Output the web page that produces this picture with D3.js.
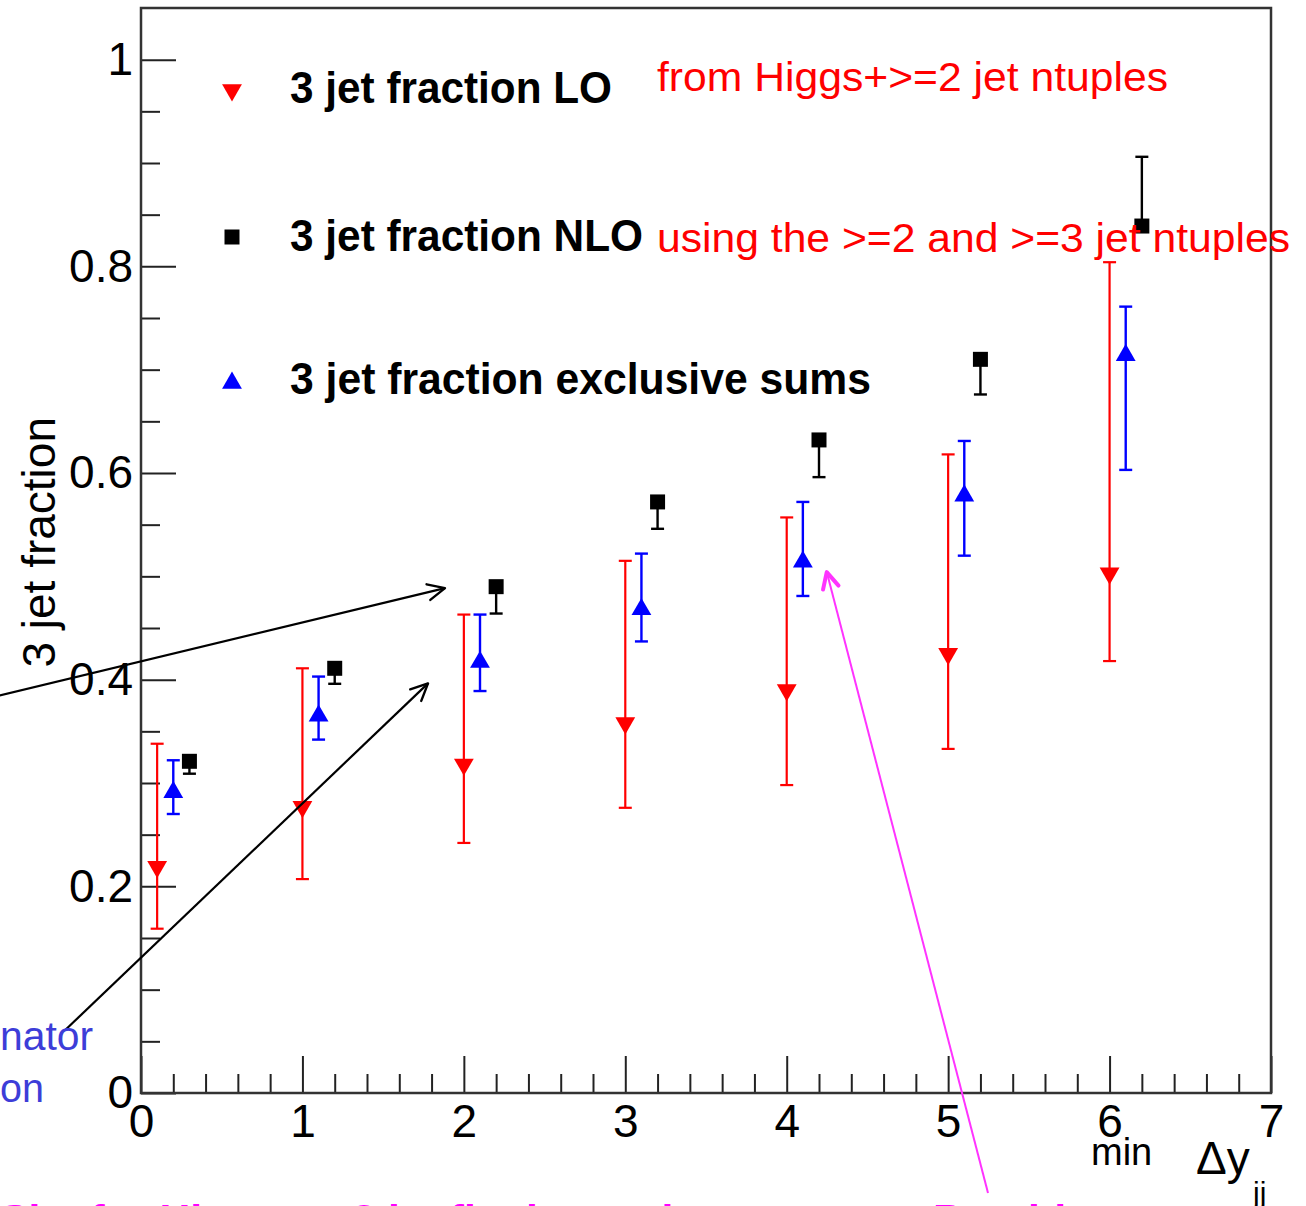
<!DOCTYPE html>
<html>
<head>
<meta charset="utf-8">
<script src="https://cdn.jsdelivr.net/npm/d3@7"></script>
<style>
  body { margin: 0; background: #fff; }
  svg { display: block; }
  text { font-family: "Liberation Sans", Arial, Helvetica, sans-serif; }
</style>
</head>
<body>
<svg id="chart"></svg>
<script>
/*
  3 jet fraction vs min delta y
*/

// LO (red, down triangles)
var xLO = [0.1, 1, 2, 3, 4, 5, 6],
    yLO = [0.219, 0.277, 0.318, 0.358, 0.390, 0.425, 0.503],
    hiLO = [0.338, 0.411, 0.463, 0.515, 0.557, 0.618, 0.804],
    loLO = [0.159, 0.207, 0.242, 0.276, 0.298, 0.333, 0.418];

// exclusive sums (blue, up triangles)
var xExcl = [0.2, 1.1, 2.1, 3.1, 4.1, 5.1, 6.1],
    yExcl = [0.291, 0.365, 0.417, 0.468, 0.514, 0.578, 0.714],
    hiExcl = [0.322, 0.403, 0.463, 0.522, 0.572, 0.631, 0.761],
    loExcl = [0.270, 0.342, 0.389, 0.437, 0.481, 0.520, 0.603];

// NLO (black squares)
var xNLO = [0.3, 1.2, 2.2, 3.2, 4.2, 5.2, 6.2],
    yNLO = [0.321, 0.411, 0.490, 0.572, 0.632, 0.710, 0.839],
    hiNLO = [0.326, 0.416, 0.495, 0.577, 0.637, 0.715, 0.906],
    loNLO = [0.309, 0.396, 0.464, 0.546, 0.596, 0.676, 0.834];

var xTicks = [0, 1, 2, 3, 4, 5, 6, 7],
    yTicks = [0, 0.2, 0.4, 0.6, 0.8, 1],
    legendLabels = ["3 jet fraction LO", "3 jet fraction NLO", "3 jet fraction exclusive sums"];

// annotation arrows, in axis units
var arrows = [
  {from: [-1.0, 0.380], to: [1.883, 0.4886], color: "#000", head: "headBlack", w: 2.2},
  {from: [-0.471, 0.0607], to: [1.778, 0.3964], color: "#000", head: "headBlack", w: 2.2},
  {from: [5.247, -0.0968], to: [4.248, 0.5041], color: "#ff33ff", head: "headPink", w: 2}
];

var margin = {top: 8, right: 35, bottom: 113, left: 141},
    width = 1130,
    height = 1085,
    x = d3.scaleLinear().domain([0, 7]).range([0, width]),
    y = d3.scaleLinear().domain([0, 1.05]).range([height, 0]);

var svgRoot = d3.select("#chart")
    .attr("width", 1306)
    .attr("height", 1206);

var svg = svgRoot.append("g")
    .attr("transform", "translate(" + margin.left + "," + margin.top + ")");

//Arrow heads
var defs = svgRoot.append("defs");
[["headBlack", "#000", 2.4, 17, 8], ["headPink", "#ff33ff", 4, 16, 8]].forEach(function(m){
  defs.append("marker")
    .attr("id", m[0])
    .attr("viewBox", "-22 -12 26 24")
    .attr("refX", 0).attr("refY", 0)
    .attr("markerWidth", 26).attr("markerHeight", 24)
    .attr("markerUnits", "userSpaceOnUse")
    .attr("orient", "auto")
    .append("path")
      .attr("d", "M" + (-m[3]) + "," + (-m[4]) + " L0,0 L" + (-m[3]) + "," + m[4])
      .attr("fill", "none")
      .attr("stroke", m[1])
      .attr("stroke-linecap", "round")
      .attr("stroke-linejoin", "round")
      .attr("stroke-width", m[2]);
});

//Minor ticks
svg.append("g")
  .call(d3.axisLeft(y).tickValues(d3.range(0.05, 1.05, 0.05).filter(function(v){ return Math.abs(v * 5 - Math.round(v * 5)) > 1e-6; }))
    .tickSizeInner(-19).tickSizeOuter(0).tickFormat(""))
  .call(function(g){ g.select(".domain").remove(); })
  .selectAll("line").attr("stroke", "#222").attr("stroke-width", 2);

svg.append("g")
  .attr("transform", "translate(0," + height + ")")
  .call(d3.axisBottom(x).tickValues(d3.range(0.2, 7, 0.2).filter(function(v){ return Math.abs(v - Math.round(v)) > 1e-6; }))
    .tickSizeInner(-19).tickSizeOuter(0).tickFormat(""))
  .call(function(g){ g.select(".domain").remove(); })
  .selectAll("line").attr("stroke", "#222").attr("stroke-width", 2);

//Add y axis
var yAxis = svg.append("g")
  .attr("class", "y axis")
  .call(d3.axisLeft(y).tickValues(yTicks).tickSizeInner(-35).tickSizeOuter(0).tickPadding(8).tickFormat(d3.format("~g")));
yAxis.select(".domain").remove();
yAxis.selectAll("line").attr("stroke", "#222").attr("stroke-width", 2);
yAxis.selectAll("text").style("font-size", "46px").attr("fill", "#000");

//Add x axis
var xAxis = svg.append("g")
  .attr("class", "xAxis")
  .attr("transform", "translate(0," + height + ")")
  .call(d3.axisBottom(x).tickValues(xTicks).tickSizeInner(-37).tickSizeOuter(0).tickPadding(11).tickFormat(d3.format("d")));
xAxis.select(".domain").remove();
xAxis.selectAll("line").attr("stroke", "#222").attr("stroke-width", 2);
xAxis.selectAll("text").style("font-size", "46px").attr("fill", "#000");

//Frame
svg.append("rect")
  .attr("x", 0).attr("y", 0)
  .attr("width", width).attr("height", height)
  .attr("fill", "none")
  .attr("stroke", "#333")
  .attr("stroke-width", 2.5);

//Legend
var legendY = [90, 237, 383],
    legendWidth = [322, 353, 581],
    tri = d3.symbol().type(d3.symbolTriangle).size(170),
    sq = d3.symbol().type(d3.symbolSquare).size(225);

svg.append("path").attr("d", tri).attr("fill", "#ff0000")
  .attr("transform", "translate(91," + (legendY[0] - margin.top) + ") rotate(180)");
svg.append("path").attr("d", sq).attr("fill", "#000")
  .attr("transform", "translate(91," + (legendY[1] - margin.top) + ")");
svg.append("path").attr("d", tri).attr("fill", "#0000ff")
  .attr("transform", "translate(91," + (legendY[2] - margin.top) + ")");

svg.selectAll(".legendText")
  .data(legendLabels)
  .enter().append("text")
    .attr("class", "legendText")
    .attr("x", 149)
    .attr("y", function(d, i){ return [103, 251, 394][i] - margin.top; })
    .attr("textLength", function(d, i){ return legendWidth[i]; })
    .attr("lengthAdjust", "spacingAndGlyphs")
    .style("font-size", "44px")
    .style("font-weight", "bold")
    .attr("fill", "#000")
    .text(function(d){ return d; });

//Red notes
svg.append("text")
  .attr("x", 516).attr("y", 91 - margin.top)
  .attr("textLength", 511).attr("lengthAdjust", "spacingAndGlyphs")
  .style("font-size", "41px").attr("fill", "#ff0000")
  .text("from Higgs+>=2 jet ntuples");

//Error bars and markers
function drawSeries(xs, ys, his, los, color, shape, lineW){
  var data = xs.map(function(v, i){ return {x: v, y: ys[i], hi: his[i], lo: los[i]}; }),
      g = svg.append("g");

  g.selectAll(".err")
    .data(data)
    .enter().append("line")
      .attr("x1", function(d){ return x(d.x); })
      .attr("x2", function(d){ return x(d.x); })
      .attr("y1", function(d){ return y(d.hi); })
      .attr("y2", function(d){ return y(d.lo); })
      .attr("stroke", color).attr("stroke-width", lineW);

  ["hi", "lo"].forEach(function(k){
    g.selectAll(".cap" + k)
      .data(data)
      .enter().append("line")
        .attr("x1", function(d){ return x(d.x) - 6.5; })
        .attr("x2", function(d){ return x(d.x) + 6.5; })
        .attr("y1", function(d){ return y(d[k]); })
        .attr("y2", function(d){ return y(d[k]); })
        .attr("stroke", color).attr("stroke-width", lineW);
  });

  g.selectAll(".mark")
    .data(data)
    .enter().append("path")
      .attr("d", shape == "square" ? sq : tri)
      .attr("fill", color)
      .attr("transform", function(d){
        return "translate(" + x(d.x) + "," + y(d.y) + ")" + (shape == "down" ? " rotate(180)" : "");
      });
}

drawSeries(xLO, yLO, hiLO, loLO, "#ff0000", "down", 2.2);
drawSeries(xExcl, yExcl, hiExcl, loExcl, "#0000ff", "up", 2.4);
drawSeries(xNLO, yNLO, hiNLO, loNLO, "#000", "square", 2.4);

svg.append("text")
  .attr("x", 516).attr("y", 252 - margin.top)
  .attr("textLength", 633).attr("lengthAdjust", "spacingAndGlyphs")
  .style("font-size", "41px").attr("fill", "#ff0000")
  .text("using the >=2 and >=3 jet ntuples");

//Y label
svgRoot.append("text")
  .attr("transform", "translate(55,417) rotate(-90)")
  .style("text-anchor", "end")
  .style("font-size", "46px")
  .attr("fill", "#000")
  .text("3 jet fraction");

//X label
svgRoot.append("text")
  .attr("x", 1091).attr("y", 1165)
  .style("font-size", "38px").attr("fill", "#000")
  .text("min");
svgRoot.append("text")
  .attr("x", 1196).attr("y", 1174)
  .style("font-size", "46px").attr("fill", "#000")
  .text("\u0394y");
svgRoot.append("text")
  .attr("x", 1253).attr("y", 1203)
  .style("font-size", "30px").attr("fill", "#000")
  .text("jj");

//Annotations
svgRoot.append("text")
  .attr("x", 93).attr("y", 1050)
  .style("text-anchor", "end")
  .attr("textLength", 93).attr("lengthAdjust", "spacingAndGlyphs")
  .style("font-size", "40px").attr("fill", "#3d3dd8")
  .text("nator");
svgRoot.append("text")
  .attr("x", 44).attr("y", 1102)
  .style("text-anchor", "end")
  .attr("textLength", 44).attr("lengthAdjust", "spacingAndGlyphs")
  .style("font-size", "40px").attr("fill", "#3d3dd8")
  .text("on");

svg.selectAll(".arrow")
  .data(arrows)
  .enter().append("line")
    .attr("class", "arrow")
    .attr("x1", function(d){ return x(d.from[0]); })
    .attr("y1", function(d){ return y(d.from[1]); })
    .attr("x2", function(d){ return x(d.to[0]); })
    .attr("y2", function(d){ return y(d.to[1]); })
    .attr("stroke", function(d){ return d.color; })
    .attr("stroke-width", function(d){ return d.w; })
    .attr("marker-end", function(d){ return "url(#" + d.head + ")"; });

svgRoot.append("text")
  .attr("x", 0).attr("y", 1231)
  .attr("textLength", 1090).attr("lengthAdjust", "spacingAndGlyphs")
  .style("font-size", "36px").style("font-weight", "bold")
  .attr("fill", "#ff00ff")
  .text("Sim for Higgs +> 3 jet final state in progress - Provide");
</script>
</body>
</html>
